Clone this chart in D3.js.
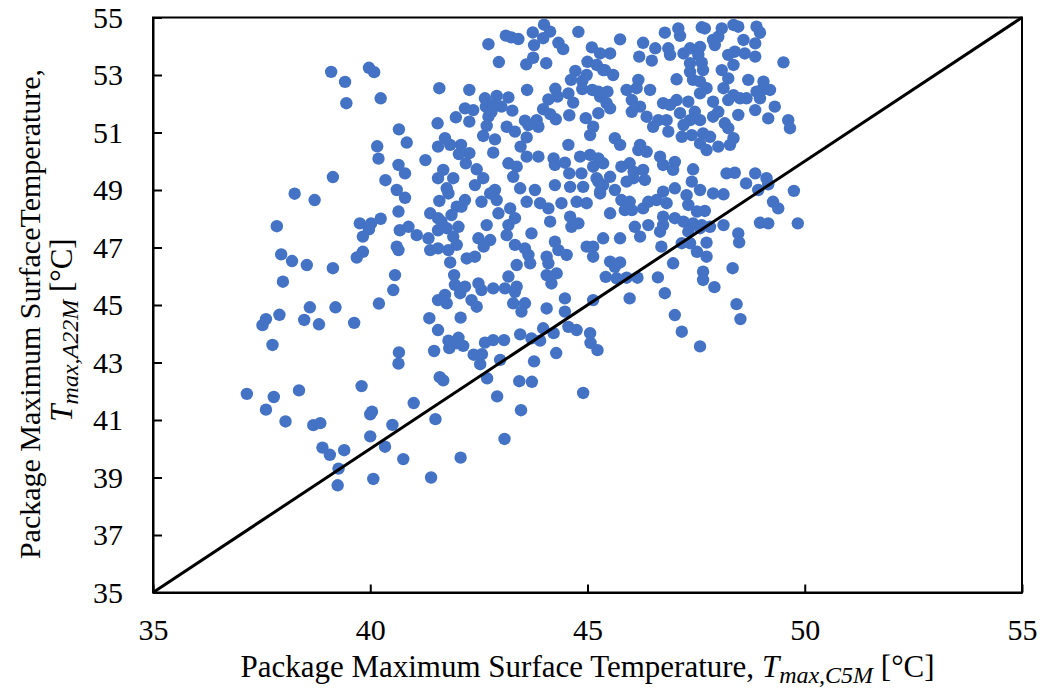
<!DOCTYPE html>
<html>
<head>
<meta charset="utf-8">
<script src="https://cdn.jsdelivr.net/npm/d3@7"></script>
<style>
	body { margin: 0; background: #fff; }
	svg text { font-family: "Times New Roman", "Liberation Serif", serif; fill: #000; }
</style>
</head>
<body>
<div id="chart"></div>
<script>
// tick values of both axes
const xTicks = [35, 40, 45, 50, 55];
const yTicks = [35, 37, 39, 41, 43, 45, 47, 49, 51, 53, 55];

// reference line T_A22M = T_C5M
const lineEnds = [35, 55];

// samples: [T_max,C5M, T_max,A22M] in °C
const samples = [
	[37.75,43.61],[37.16,41.91],[37.78,41.8],[38.36,42.03],[37.6,41.36],[38.05,40.95],[38.69,40.82],[38.85,40.89],
	[39.8,42.18],[40.04,41.29],[40.0,41.2],[40.0,40.43],[40.34,40.07],[38.9,40.04],[39.07,39.79],[39.4,39.95],
	[39.27,39.31],[39.25,38.73],[40.07,38.95],
	[40.66,43.35],[40.65,42.96],[41.47,43.4],[41.82,43.5],[42.14,43.58],[41.99,43.67],[41.8,43.76],[42.64,43.69],
	[42.83,43.78],[43.08,43.78],[42.38,43.27],[42.57,43.29],[42.53,42.94],[42.99,43.09],[43.77,43.04],[43.91,43.76],
	[44.28,43.33],[45.07,43.68],[45.23,43.43],[41.6,42.49],[41.68,42.38],[42.69,42.45],[43.43,42.35],[43.72,42.33],
	[42.92,41.82],[44.9,41.94],[41.0,41.59],[41.5,41.03],[40.51,40.83],[43.47,41.34],[40.76,39.64],
	[42.08,39.69],[43.09,40.34],[41.4,39.0],[47.59,43.56],
	[39.14,49.45],[40.35,49.34],[38.26,48.87],[38.72,48.65],[37.85,47.74],[39.76,47.84],[40.02,47.84],[39.97,47.63],
	[39.83,47.38],[40.24,48.0],[37.95,46.76],[38.2,46.53],[38.54,46.39],[39.14,46.28],[39.83,46.85],[39.69,46.65],
	[37.99,45.81],[40.2,45.05],[38.61,44.92],[39.2,44.92],[37.91,44.66],[37.6,44.51],[37.52,44.3],[38.48,44.48],
	[38.82,44.33],[39.63,44.38],
	[39.1,53.11],[39.42,52.76],[39.45,52.02],[39.97,53.25],[40.09,53.1],[40.24,52.19],[40.16,50.52],[40.19,50.09],
	[44.0,54.75],[43.74,54.48],[43.12,54.37],[43.25,54.31],[43.41,54.25],[44.14,54.51],[43.98,54.28],[44.79,54.5],
	[43.77,54.04],[44.33,54.12],[44.44,53.9],[42.72,54.07],[42.96,53.45],[43.59,53.37],[43.75,53.6],[44.05,53.41],
	[45.1,53.96],[45.29,53.75],[45.0,53.46],[45.21,53.35],[45.36,53.17],[44.72,53.14],[44.62,52.83],[44.88,52.79],
	[44.98,53.0],[41.59,52.54],[42.28,52.48],[43.61,52.48],[44.26,52.52],[44.56,52.36],[44.88,52.51],[45.11,52.48],
	[45.25,52.42],[42.64,52.19],[42.91,52.27],[43.18,52.22],[44.1,52.15],[44.31,52.25],[44.67,52.04],[45.29,52.25],
	[42.18,51.84],[42.37,51.78],[42.66,51.9],[42.83,51.96],[43.02,51.9],[42.79,51.72],[43.27,51.76],[43.98,51.81],
	[41.97,51.53],[42.28,51.38],[42.72,51.55],[43.56,51.41],[43.83,51.43],[44.14,51.64],[44.27,51.46],[44.58,51.6],
	[44.96,51.5],[45.25,51.67],[41.55,51.32],[42.68,51.23],[43.14,51.2],[43.33,51.03],[43.64,51.26],[43.87,51.2],
	[45.13,51.2],[42.6,50.88],[42.87,50.76],[43.6,50.83],[45.06,50.91],[40.66,51.11],[40.84,50.65],[41.56,50.51],
	[41.72,50.8],[41.84,50.57],[42.09,50.57],[42.28,50.28],[42.04,50.25],[42.83,50.3],[43.46,50.51],[44.56,50.57],
	[43.6,50.16],[43.87,50.16],[44.22,50.1],[44.83,50.16],[45.06,50.22],[45.25,50.1],[41.27,50.04],[40.65,49.87],
	[40.8,49.58],[41.68,49.7],[42.2,49.93],[42.45,49.72],[43.18,49.93],[43.37,49.81],[44.25,49.87],[44.48,49.95],
	[44.58,49.58],[44.86,49.58],[45.13,49.81],[42.6,49.41],[43.29,49.46],[41.91,49.41],[41.56,49.41],[45.21,49.41],
	[41.76,49.06],[42.41,49.17],[42.87,49.0],[42.76,48.88],[43.45,49.06],[43.79,49.0],[44.25,49.17],[44.6,49.11],
	[44.9,49.11],[45.25,49.29],[40.61,49.0],[40.8,48.73],[41.59,48.62],[41.8,48.88],[42.18,48.65],[41.99,48.42],
	[42.56,48.59],[42.91,48.65],[43.22,48.36],[43.6,48.59],[43.91,48.54],[44.1,48.36],[44.4,48.54],[44.75,48.59],
	[44.98,48.54],[45.29,48.94],[40.65,48.25],[41.38,48.19],[41.56,48.02],[41.87,48.13],[42.1,48.42],[42.95,48.19],
	[43.18,47.78],[43.33,48.02],[44.14,47.9],[44.6,48.07],[44.79,47.84],[44.63,47.72],[42.68,47.78],[40.68,47.6],
	[40.88,47.72],[41.07,47.43],[41.34,47.32],[41.56,47.6],[41.76,47.67],[42.03,47.72],[41.64,47.9],[41.91,47.38],
	[41.99,47.09],[41.38,46.91],[41.56,46.97],[41.8,46.91],[42.49,47.32],[42.76,47.26],[42.61,47.03],[43.14,47.43],
	[43.33,47.09],[43.71,47.49],[43.56,46.97],[43.64,46.74],[43.68,46.45],[44.25,47.2],[44.33,46.91],[44.52,46.74],
	[44.98,47.03],[45.13,47.03],[45.13,46.68],[45.36,47.32],[40.61,47.03],[40.65,46.91],[41.84,46.48],[42.22,46.62],
	[42.41,46.68],[43.37,46.39],[44.06,46.68],[44.1,46.45],[44.06,46.04],[44.29,46.1],[44.17,45.75],[40.57,46.04],
	[40.53,45.52],[41.93,46.04],[41.95,45.7],[42.18,45.64],[42.07,45.41],[42.49,45.75],[42.56,45.52],[42.83,45.58],
	[43.1,45.58],[43.18,45.99],[43.33,45.46],[43.37,45.64],[41.56,45.17],[41.76,45.06],[41.72,45.35],[42.33,45.17],
	[42.45,44.94],[43.29,45.06],[43.56,45.06],[43.48,44.77],[44.06,44.88],[44.48,45.23],[44.48,44.77],[45.13,45.17],
	[41.36,44.54],[42.08,44.56],[41.56,44.13],[42.03,43.86],[43.45,43.98],[43.71,43.84],[43.98,44.19],[44.22,44.02],
	[44.56,44.24],[44.75,44.13],[45.06,44.02],
	[45.75,54.24],[46.28,54.12],[46.78,54.47],[47.09,54.62],[47.13,54.36],[47.63,54.66],[47.7,54.62],[48.09,54.62],
	[48.01,54.33],[48.36,54.74],[48.47,54.68],[48.89,54.68],[48.97,54.47],[48.59,54.22],[48.86,54.1],[47.93,54.04],
	[47.89,54.22],[49.51,53.44],[46.56,53.93],[46.86,53.93],[46.48,53.5],[46.19,53.64],[45.52,53.75],[47.21,53.75],
	[47.36,53.93],[47.59,53.98],[47.55,53.7],[46.9,53.7],[48.24,53.7],[48.39,53.81],[48.62,53.75],[48.86,53.64],
	[48.36,53.35],[47.63,53.43],[47.36,53.41],[45.4,53.17],[45.59,53.0],[47.36,53.11],[47.66,53.17],[48.09,53.17],
	[47.05,52.85],[47.43,52.83],[47.59,52.77],[48.24,52.88],[48.7,52.83],[49.05,52.77],[46.17,52.83],[45.9,52.48],
	[46.13,52.54],[46.44,52.48],[45.46,52.42],[47.74,52.54],[47.59,52.36],[48.13,52.54],[48.36,52.3],[48.51,52.19],
	[48.66,52.19],[49.01,52.48],[49.2,52.48],[48.89,52.42],[48.97,52.19],[49.31,51.9],[45.44,52.02],[45.52,51.84],
	[46.02,52.13],[46.21,51.9],[46.02,51.72],[46.74,52.02],[47.05,52.13],[47.32,52.07],[46.9,51.96],[47.13,51.67],
	[47.47,51.72],[47.36,51.43],[47.59,51.43],[47.89,52.07],[48.01,51.72],[47.89,51.55],[48.24,52.13],[48.16,51.32],
	[48.24,51.15],[48.47,51.61],[48.86,51.78],[49.16,51.49],[49.62,51.43],[49.66,51.15],[46.36,51.55],[46.51,51.2],
	[46.63,51.43],[46.82,51.43],[46.86,51.03],[47.21,51.26],[47.17,50.85],[47.4,50.91],[47.66,50.97],[47.82,50.85],
	[47.59,50.62],[47.74,50.39],[48.01,50.51],[48.28,50.57],[48.36,50.8],[45.63,50.8],[45.75,50.57],[46.21,50.57],
	[46.17,50.39],[46.36,50.33],[45.97,49.93],[45.78,49.81],[46.06,49.64],[46.28,49.7],[46.67,50.16],[46.74,49.87],
	[47.01,49.98],[46.97,49.7],[47.43,49.72],[45.36,49.93],[48.2,49.58],[48.39,49.6],[48.86,49.58],[49.12,49.41],
	[45.36,49.17],[45.63,49.0],[45.9,49.29],[46.06,49.41],[46.32,49.35],[45.78,48.65],[45.97,48.59],[45.86,48.3],
	[46.02,48.3],[46.28,48.36],[46.4,48.59],[46.59,48.65],[46.74,48.94],[47.01,49.06],[46.82,48.54],[47.28,48.82],
	[47.32,48.48],[47.4,49.29],[47.59,49.0],[47.89,48.88],[48.13,48.85],[48.65,49.23],[48.93,49.0],[49.16,49.2],
	[49.27,48.59],[49.39,48.36],[49.75,48.97],[49.84,47.84],[48.97,47.86],[49.16,47.84],[45.52,48.19],[46.74,48.07],
	[47.01,48.02],[47.21,47.9],[47.52,48.25],[47.7,48.27],[47.43,47.84],[47.63,47.78],[47.82,47.72],[48.13,47.78],
	[47.32,47.55],[47.59,47.67],[46.09,47.72],[46.4,47.78],[46.21,47.38],[46.67,47.55],[46.74,47.78],[45.75,47.32],
	[48.47,47.49],[48.49,47.18],[47.17,47.15],[47.36,47.15],[47.52,46.85],[47.74,47.17],[46.7,47.03],[47.74,46.68],
	[46.97,46.45],[45.52,46.51],[45.75,46.48],[45.63,46.33],[45.42,45.98],[45.67,45.93],[45.9,45.95],[46.15,45.95],
	[46.62,45.96],[47.66,46.16],[47.66,45.87],[48.34,46.28],[47.92,45.62],[46.78,45.41],[45.97,45.23],[48.43,45.03],
	[48.52,44.51],[47.01,44.65],[47.17,44.07],[45.29,48.88],[45.52,49.46]
];

// chart size
const margin = {top: 17.5, right: 21, bottom: 98.5, left: 153};
const width = 1043 - margin.left - margin.right;
const height = 691 - margin.top - margin.bottom;

const svg = d3.select("#chart").append("svg")
	.attr("width", 1043)
	.attr("height", 691);

const g = svg.append("g")
	.attr("transform", "translate(" + margin.left + "," + margin.top + ")");

// scales
const x = d3.scaleLinear().domain([35, 55]).range([0, width]);
const y = d3.scaleLinear().domain([35, 55]).range([height, 0]);

// axes, ticks point into the plot
const xAxis = d3.axisBottom(x).tickValues(xTicks).tickSizeInner(-8).tickSizeOuter(0).tickPadding(26);
const yAxis = d3.axisLeft(y).tickValues(yTicks).tickSizeInner(-9).tickSizeOuter(0).tickPadding(30);

g.append("g")
	.attr("class", "x-axis")
	.attr("transform", "translate(0," + height + ")")
	.call(xAxis);
g.append("g")
	.attr("class", "y-axis")
	.call(yAxis);

g.selectAll(".x-axis path, .y-axis path, .x-axis line, .y-axis line")
	.attr("stroke", "#000")
	.attr("stroke-width", 2);
g.selectAll(".x-axis text, .y-axis text")
	.style("font-family", '"Times New Roman", "Liberation Serif", serif')
	.style("font-size", "30px")
	.attr("fill", "#000");

// frame on top and right
g.append("rect")
	.attr("x", 0)
	.attr("y", 0)
	.attr("width", width)
	.attr("height", height)
	.attr("fill", "none")
	.attr("stroke", "#000")
	.attr("stroke-width", 2);

// points
g.append("g")
	.selectAll("circle")
	.data(samples)
	.enter()
	.append("circle")
	.attr("cx", d => x(d[0]))
	.attr("cy", d => y(d[1]))
	.attr("r", 6.2)
	.attr("fill", "#4472C4");

// 1:1 line
g.append("line")
	.attr("x1", x(lineEnds[0]))
	.attr("y1", y(lineEnds[0]))
	.attr("x2", x(lineEnds[1]))
	.attr("y2", y(lineEnds[1]))
	.attr("stroke", "#000")
	.attr("stroke-width", 3);

// x axis title
const xTitle = svg.append("text")
	.attr("x", margin.left + width / 2)
	.attr("y", 677)
	.attr("text-anchor", "middle")
	.style("font-size", "31px");
xTitle.append("tspan").text("Package Maximum Surface Temperature, ");
xTitle.append("tspan").style("font-style", "italic").text("T");
xTitle.append("tspan").style("font-style", "italic").style("font-size", "24px").attr("dy", 6).text("max,C5M");
xTitle.append("tspan").attr("dy", -6).text(" [°C]");

// y axis title, two lines
const yTitle = svg.append("g")
	.attr("transform", "rotate(-90)");
yTitle.append("text")
	.attr("x", -314)
	.attr("y", 40)
	.attr("text-anchor", "middle")
	.style("font-size", "30px")
	.text("Package Maximum SurfaceTemperature,");
const yLine2 = yTitle.append("text")
	.attr("x", -330)
	.attr("y", 72)
	.attr("text-anchor", "middle")
	.style("font-size", "31px");
yLine2.append("tspan").style("font-style", "italic").text("T");
yLine2.append("tspan").style("font-style", "italic").style("font-size", "24px").attr("dy", 6).text("max,A22M");
yLine2.append("tspan").attr("dy", -6).text(" [°C]");
</script>
</body>
</html>
